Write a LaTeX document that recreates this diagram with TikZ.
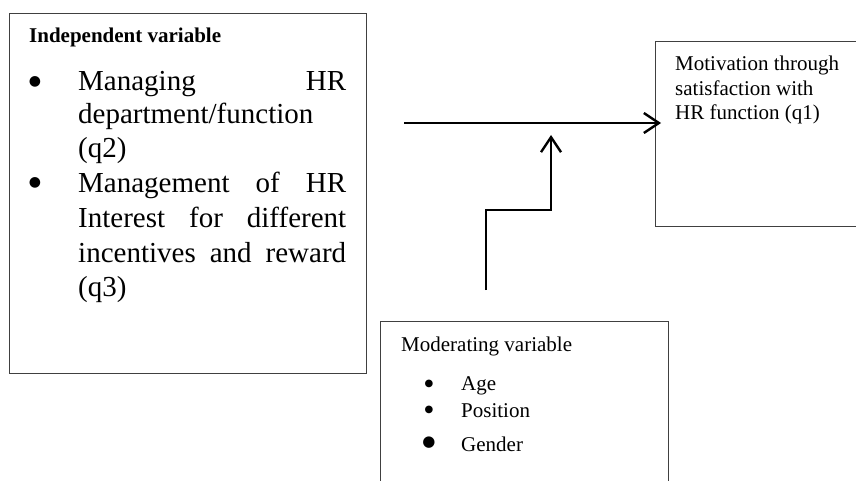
\documentclass[tikz,border=0pt]{standalone}
\usepackage{fontspec}
\setmainfont{Liberation Serif}
\newfontfamily\dotfont{DejaVu Sans}
\usetikzlibrary{arrows.meta}
\tikzset{
  box/.style={draw=black!75, line width=1.3pt, inner sep=0pt, anchor=north west},
  link/.style={line width=2.4pt, -{Straight Barb[length=15pt,width=20pt]}},
  big/.style={font=\fontsize{29}{34}\selectfont, inner sep=0pt, anchor=base west},
  small/.style={font=\fontsize{21}{25}\selectfont, inner sep=0pt, anchor=base west},
  dot/.style={inner sep=0pt, anchor=center}
}

\begin{document}
\begin{tikzpicture}[x=1pt,y=-1pt]
			%%%%% START %%%%%
			\useasboundingbox (0,0) rectangle (856,481);
			\clip (0,0) rectangle (856,481);
			
			\node[box, minimum width=357pt, minimum height=360pt] (indep) at (9,13) {};
			\node[box, minimum width=240pt, minimum height=185pt] (motiv) at (655,41) {};
			\node[box, minimum width=288pt, minimum height=190pt] (moder) at (380,321) {};
			
			\node[small, font=\fontsize{21}{25}\selectfont\bfseries] (indeptitle) at (29,43) {Independent variable};
			
			\node[dot, font=\dotfont\fontsize{14}{14}\selectfont] (ibul1) at (35,82) {●};
			\node[big] (i1a) at (78,91) {\makebox[268pt][s]{Managing HR}};
			\node[big] (i1b) at (78,124) {department/function};
			\node[big] (i1c) at (78,158) {(q2)};
			
			\node[dot, font=\dotfont\fontsize{14}{14}\selectfont] (ibul2) at (35,183) {●};
			\node[big] (i2a) at (78,193) {\makebox[268pt][s]{Management of HR}};
			\node[big] (i2b) at (78,227) {\makebox[268pt][s]{Interest for different}};
			\node[big] (i2c) at (78,262) {\makebox[268pt][s]{incentives and reward}};
			\node[big] (i2d) at (78,296) {(q3)};
			
			\node[small] (mot1) at (675,71) {Motivation through};
			\node[small] (mot2) at (675,96) {satisfaction with};
			\node[small] (mot3) at (675,120) {HR function (q1)};
			
			\node[small] (modtitle) at (401,351) {Moderating variable};
			\node[dot, font=\dotfont\fontsize{10}{10}\selectfont] (mbul1) at (429,384) {●};
			\node[small] (age) at (461,390) {Age};
			\node[dot, font=\dotfont\fontsize{10}{10}\selectfont] (mbul2) at (429,410) {●};
			\node[small] (position) at (461,417) {Position};
			\node[dot, font=\dotfont\fontsize{15}{15}\selectfont] (mbul3) at (429,443) {●};
			\node[small] (gender) at (461,451) {Gender};
			
			\coordinate (hstart) at (404,123);
			\draw[link] (hstart) -- ([xshift=6pt]motiv.west |- hstart);
			
			\coordinate (vstart) at (486,290);
			\coordinate (vbend) at (551,210);
			\coordinate (vend) at (551,135);
			\draw[link] (vstart) |- (vbend) -- (vend);
			
			%%%%% END %%%%%
\end{tikzpicture}
\end{document}
